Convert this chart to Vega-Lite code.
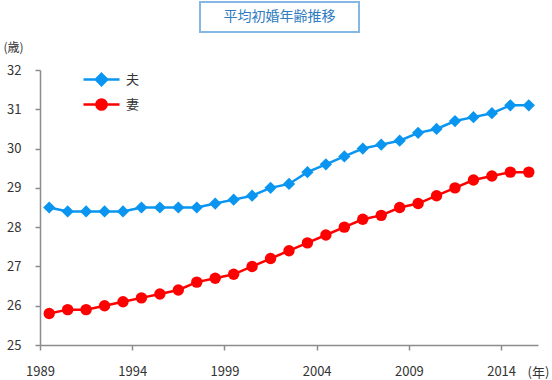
{
  "$schema": "https://vega.github.io/schema/vega-lite/v6.json",
  "padding": {"left": 2, "top": 1, "right": 0, "bottom": 0},
  "background": "white",
  "config": {"font": "Noto Sans CJK JP", "view": {"stroke": null}},
  "datasets": {
    "title": [{"t": "平均初婚年齢推移"}],
    "ages": [
      {"year": 1989, "who": "夫", "age": 28.5}, {"year": 1990, "who": "夫", "age": 28.4},
      {"year": 1991, "who": "夫", "age": 28.4}, {"year": 1992, "who": "夫", "age": 28.4},
      {"year": 1993, "who": "夫", "age": 28.4}, {"year": 1994, "who": "夫", "age": 28.5},
      {"year": 1995, "who": "夫", "age": 28.5}, {"year": 1996, "who": "夫", "age": 28.5},
      {"year": 1997, "who": "夫", "age": 28.5}, {"year": 1998, "who": "夫", "age": 28.6},
      {"year": 1999, "who": "夫", "age": 28.7}, {"year": 2000, "who": "夫", "age": 28.8},
      {"year": 2001, "who": "夫", "age": 29.0}, {"year": 2002, "who": "夫", "age": 29.1},
      {"year": 2003, "who": "夫", "age": 29.4}, {"year": 2004, "who": "夫", "age": 29.6},
      {"year": 2005, "who": "夫", "age": 29.8}, {"year": 2006, "who": "夫", "age": 30.0},
      {"year": 2007, "who": "夫", "age": 30.1}, {"year": 2008, "who": "夫", "age": 30.2},
      {"year": 2009, "who": "夫", "age": 30.4}, {"year": 2010, "who": "夫", "age": 30.5},
      {"year": 2011, "who": "夫", "age": 30.7}, {"year": 2012, "who": "夫", "age": 30.8},
      {"year": 2013, "who": "夫", "age": 30.9}, {"year": 2014, "who": "夫", "age": 31.1},
      {"year": 2015, "who": "夫", "age": 31.1},
      {"year": 1989, "who": "妻", "age": 25.8}, {"year": 1990, "who": "妻", "age": 25.9},
      {"year": 1991, "who": "妻", "age": 25.9}, {"year": 1992, "who": "妻", "age": 26.0},
      {"year": 1993, "who": "妻", "age": 26.1}, {"year": 1994, "who": "妻", "age": 26.2},
      {"year": 1995, "who": "妻", "age": 26.3}, {"year": 1996, "who": "妻", "age": 26.4},
      {"year": 1997, "who": "妻", "age": 26.6}, {"year": 1998, "who": "妻", "age": 26.7},
      {"year": 1999, "who": "妻", "age": 26.8}, {"year": 2000, "who": "妻", "age": 27.0},
      {"year": 2001, "who": "妻", "age": 27.2}, {"year": 2002, "who": "妻", "age": 27.4},
      {"year": 2003, "who": "妻", "age": 27.6}, {"year": 2004, "who": "妻", "age": 27.8},
      {"year": 2005, "who": "妻", "age": 28.0}, {"year": 2006, "who": "妻", "age": 28.2},
      {"year": 2007, "who": "妻", "age": 28.3}, {"year": 2008, "who": "妻", "age": 28.5},
      {"year": 2009, "who": "妻", "age": 28.6}, {"year": 2010, "who": "妻", "age": 28.8},
      {"year": 2011, "who": "妻", "age": 29.0}, {"year": 2012, "who": "妻", "age": 29.2},
      {"year": 2013, "who": "妻", "age": 29.3}, {"year": 2014, "who": "妻", "age": 29.4},
      {"year": 2015, "who": "妻", "age": 29.4}
    ]
  },
  "spacing": 8,
  "resolve": {"legend": {"color": "independent"}},
  "vconcat": [
    {
      "spacing": 0,
      "hconcat": [
        {
          "width": 159,
          "height": 30,
          "data": {"name": "title"},
          "mark": {"type": "text", "text": "", "opacity": 0}
        },
        {
          "width": 159,
          "height": 30,
          "view": {"stroke": "#86b6e3", "strokeWidth": 2, "fill": "white"},
          "data": {"name": "title"},
          "mark": {"type": "text", "fontSize": 14, "color": "#2f7cc1", "baseline": "middle", "align": "center"},
          "encoding": {"text": {"field": "t"}}
        }
      ]
    },
    {
      "width": 498,
      "height": 275,
      "data": {"name": "ages"},
      "encoding": {
        "x": {
          "field": "year", "type": "quantitative",
          "scale": {"domain": [1988.5, 2015.5], "nice": false, "zero": false},
          "axis": {
            "values": [1988.5, 1993.5, 1998.5, 2003.5, 2008.5, 2013.5],
            "labelExpr": "datum.value + 0.5",
            "labelFlush": false, "labelOverlap": false,
            "grid": false, "domainColor": "#8c8c8c", "tickColor": "#8c8c8c", "tickSize": 5,
            "domainWidth": 1.5, "tickWidth": 1.5,
            "labelFontSize": 13, "labelColor": "#333", "labelPadding": 15,
            "title": "(年)", "titleFontWeight": "normal", "titleFontSize": 13, "titleColor": "#333",
            "titleX": 498, "titleY": 27, "titleAlign": "center", "titleBaseline": "middle", "titleAngle": 0
          }
        },
        "y": {
          "field": "age", "type": "quantitative",
          "scale": {"domain": [25, 32], "nice": false, "zero": false},
          "axis": {
            "values": [25, 26, 27, 28, 29, 30, 31, 32],
            "labelFlush": false, "labelOverlap": false,
            "grid": false, "domainColor": "#8c8c8c", "tickColor": "#8c8c8c", "tickSize": 5,
            "domainWidth": 1.5, "tickWidth": 1.5,
            "labelFontSize": 13, "labelColor": "#333", "labelPadding": 14,
            "title": "(歳)", "titleFontWeight": "normal", "titleFontSize": 12, "titleColor": "#333",
            "titleAngle": 0, "titleX": -27, "titleY": -23, "titleAlign": "center", "titleBaseline": "middle"
          }
        },
        "color": {
          "field": "who", "type": "nominal",
          "scale": {"domain": ["夫", "妻"], "range": ["#0a96f0", "#ff0000"]},
          "legend": {
            "title": null, "orient": "none", "legendX": 54, "legendY": 2,
            "symbolSize": 144, "labelOffset": 17, "labelFontSize": 13, "labelColor": "#333",
            "rowPadding": 3, "symbolStrokeWidth": 2.5,
            "encode": {
              "symbols": {
                "update": {
                  "shape": {"signal": "datum.value === '夫' ? 'M-3,0H3M0,-0.95L0.95,0L0,0.95L-0.95,0Z' : 'M-3,0H3M0.85,0A0.85,0.85,0,1,1,-0.85,0A0.85,0.85,0,1,1,0.85,0Z'"},
                  "fill": {"signal": "datum.value === '夫' ? '#0a96f0' : '#ff0000'"},
                  "stroke": {"signal": "datum.value === '夫' ? '#0a96f0' : '#ff0000'"},
                  "strokeWidth": {"value": 2.5},
                  "opacity": {"value": 1},
                  "fillOpacity": {"value": 1}
                }
              }
            }
          }
        }
      },
      "layer": [
        {"mark": {"type": "line", "strokeWidth": 2.5}},
        {
          "transform": [{"filter": "datum.who === '夫'"}],
          "mark": {"type": "point", "shape": "diamond", "filled": true, "opacity": 1, "size": 150}
        },
        {
          "transform": [{"filter": "datum.who === '妻'"}],
          "mark": {"type": "point", "shape": "circle", "filled": true, "opacity": 1, "size": 130}
        }
      ]
    }
  ]
}
